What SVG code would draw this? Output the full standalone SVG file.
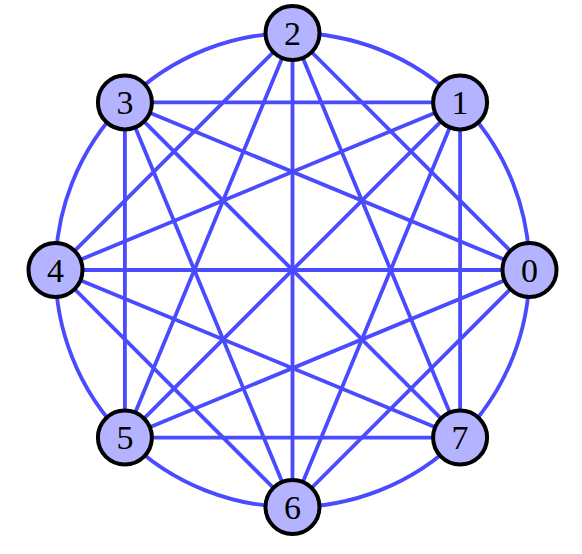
<svg xmlns="http://www.w3.org/2000/svg" width="582" height="554" viewBox="0 0 582 554">
<style>
.e{stroke:#4a4aff;stroke-width:3.8;fill:none;stroke-linecap:round}
.n circle{fill:#b3b3ff;stroke:#000;stroke-width:4}
.n text{font-family:"Liberation Serif","DejaVu Serif",serif;font-size:34px;text-anchor:middle;fill:#000}
</style>
<rect width="582" height="554" fill="#fff"/>
<g id="connectors">
<circle class="e" cx="292.5" cy="270" r="237"/>
<line class="e" x1="529.5" y1="270" x2="292.5" y2="33"/>
<line class="e" x1="529.5" y1="270" x2="124.9" y2="102.4"/>
<line class="e" x1="529.5" y1="270" x2="55.5" y2="270"/>
<line class="e" x1="529.5" y1="270" x2="124.9" y2="437.6"/>
<line class="e" x1="529.5" y1="270" x2="292.5" y2="507"/>
<line class="e" x1="460.1" y1="102.4" x2="124.9" y2="102.4"/>
<line class="e" x1="460.1" y1="102.4" x2="55.5" y2="270"/>
<line class="e" x1="460.1" y1="102.4" x2="124.9" y2="437.6"/>
<line class="e" x1="460.1" y1="102.4" x2="292.5" y2="507"/>
<line class="e" x1="460.1" y1="102.4" x2="460.1" y2="437.6"/>
<line class="e" x1="292.5" y1="33" x2="55.5" y2="270"/>
<line class="e" x1="292.5" y1="33" x2="124.9" y2="437.6"/>
<line class="e" x1="292.5" y1="33" x2="292.5" y2="507"/>
<line class="e" x1="292.5" y1="33" x2="460.1" y2="437.6"/>
<line class="e" x1="124.9" y1="102.4" x2="124.9" y2="437.6"/>
<line class="e" x1="124.9" y1="102.4" x2="292.5" y2="507"/>
<line class="e" x1="124.9" y1="102.4" x2="460.1" y2="437.6"/>
<line class="e" x1="55.5" y1="270" x2="292.5" y2="507"/>
<line class="e" x1="55.5" y1="270" x2="460.1" y2="437.6"/>
<line class="e" x1="124.9" y1="437.6" x2="460.1" y2="437.6"/>
</g>
<g id="node0" class="n"><circle cx="529.5" cy="270" r="27"/><text x="529.5" y="281.5">0</text></g>
<g id="node1" class="n"><circle cx="460.1" cy="102.4" r="27"/><text x="460.1" y="113.9">1</text></g>
<g id="node2" class="n"><circle cx="292.5" cy="33" r="27"/><text x="292.5" y="44.5">2</text></g>
<g id="node3" class="n"><circle cx="124.9" cy="102.4" r="27"/><text x="124.9" y="113.9">3</text></g>
<g id="node4" class="n"><circle cx="55.5" cy="270" r="27"/><text x="55.5" y="281.5">4</text></g>
<g id="node5" class="n"><circle cx="124.9" cy="437.6" r="27"/><text x="124.9" y="449.1">5</text></g>
<g id="node6" class="n"><circle cx="292.5" cy="507" r="27"/><text x="292.5" y="518.5">6</text></g>
<g id="node7" class="n"><circle cx="460.1" cy="437.6" r="27"/><text x="460.1" y="449.1">7</text></g>
</svg>
